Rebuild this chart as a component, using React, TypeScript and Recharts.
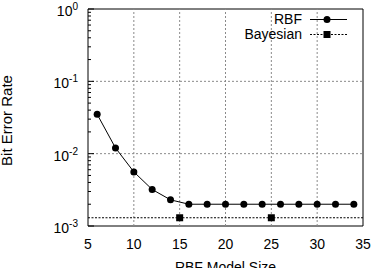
import {
  ComposedChart,
  Line,
  Scatter,
  XAxis,
  YAxis,
  ReferenceLine,
  ReferenceArea,
  Legend,
} from "recharts";

// ----- Data -----
const rbfSizes = [6, 8, 10, 12, 14, 16, 18, 20, 22, 24, 26, 28, 30, 32, 34];
const rbfBer = [
  0.035, 0.012, 0.0056, 0.0032, 0.0023, 0.002, 0.002, 0.002, 0.002, 0.002,
  0.002, 0.002, 0.002, 0.002, 0.002,
];
const bayesSizes = [15, 25];
const bayesBer = 0.0013;

const xTicks = [5, 10, 15, 20, 25, 30, 35];
const xGrid = [10, 15, 20, 25, 30];
const yGrid = [0.01, 0.1];
// decades plus the 2..9 minor steps of the log axis
const yMajor = [0.001, 0.01, 0.1, 1];
const yTicks = yMajor.flatMap((d) =>
  d < 1 ? [d, 2 * d, 3 * d, 4 * d, 5 * d, 6 * d, 7 * d, 8 * d, 9 * d] : [d]
);

const rbfData = rbfSizes.map((size, i) => ({ size, ber: rbfBer[i] }));
const bayesData = bayesSizes.map((size) => ({ size, ber: bayesBer }));

const FONT = "'Liberation Sans', Arial, Helvetica, sans-serif";

// ----- Ticks -----
function XTick({ x, y, payload }: any) {
  return (
    <text x={x} y={y + 21} textAnchor="middle" fontSize={14} fill="#000" fontFamily={FONT}>
      {payload.value}
    </text>
  );
}

function isDecade(v: number) {
  const e = Math.log10(v);
  return Math.abs(e - Math.round(e)) < 1e-6;
}

function YTickLeft({ x, y, payload }: any) {
  const v = payload.value;
  if (!isDecade(v)) {
    return <line x1={x} x2={x + 3} y1={y} y2={y} stroke="#000" strokeWidth={1} />;
  }
  const exp = Math.round(Math.log10(v));
  return (
    <g>
      <line x1={x} x2={x + 6} y1={y} y2={y} stroke="#000" strokeWidth={1} />
      <text x={x - 10} y={y + 7} textAnchor="end" fontSize={14} fill="#000" fontFamily={FONT}>
        10
        <tspan dy={-6} fontSize={10}>
          {exp}
        </tspan>
      </text>
    </g>
  );
}

function YTickRight({ x, y, payload }: any) {
  const len = isDecade(payload.value) ? 6 : 3;
  return <line x1={x - len} x2={x} y1={y} y2={y} stroke="#000" strokeWidth={1} />;
}

// ----- Legend -----
function KeyBox() {
  const row = {
    display: "flex",
    alignItems: "center",
    justifyContent: "flex-end",
    height: 15,
  } as const;
  return (
    <div style={{ fontFamily: FONT, fontSize: 14, color: "#000", lineHeight: "15px" }}>
      <div style={row}>
        <span>RBF</span>
        <svg width={45} height={15} style={{ display: "block" }}>
          <line x1={8} x2={45} y1={7.5} y2={7.5} stroke="#000" strokeWidth={1} />
          <circle cx={25} cy={7.5} r={3.5} fill="#000" />
        </svg>
      </div>
      <div style={row}>
        <span>Bayesian</span>
        <svg width={45} height={15} style={{ display: "block" }}>
          <line
            x1={8}
            x2={45}
            y1={7.5}
            y2={7.5}
            stroke="#000"
            strokeWidth={1}
            strokeDasharray="2 1.5"
          />
          <rect x={21.5} y={4} width={7} height={7} fill="#000" />
        </svg>
      </div>
    </div>
  );
}

// ----- Chart -----
export default function App() {
  return (
    <div style={{ position: "absolute", left: 0, top: 0, fontFamily: FONT }}>
      <ComposedChart width={374} height={268} margin={{ top: 9, right: 11, bottom: 0, left: 0 }}>
        <XAxis
          dataKey="size"
          type="number"
          domain={[5, 35]}
          ticks={xTicks}
          height={42}
          axisLine={false}
          tickLine={false}
          tickSize={0}
          tick={<XTick />}
          interval={0}
          label={{
            content: ({ viewBox }: any) => (
              <text
                x={viewBox.x + viewBox.width / 2}
                y={viewBox.y + 46}
                textAnchor="middle"
                fontSize={14}
                fill="#000"
                fontFamily={FONT}
              >
                RBF Model Size
              </text>
            ),
          }}
        />
        <YAxis
          yAxisId="left"
          dataKey="ber"
          scale="log"
          domain={[0.001, 1]}
          ticks={yTicks}
          allowDataOverflow
          width={88}
          axisLine={false}
          tickLine={false}
          tickSize={0}
          tickMargin={0}
          interval={0}
          tick={<YTickLeft />}
          label={{
            content: ({ viewBox }: any) => {
              const cx = 12;
              const cy = viewBox.y + viewBox.height / 2 + 3;
              return (
                <text
                  x={cx}
                  y={cy}
                  transform={`rotate(-90 ${cx} ${cy})`}
                  textAnchor="middle"
                  fontSize={15}
                  fill="#000"
                  fontFamily={FONT}
                >
                  Bit Error Rate
                </text>
              );
            },
          }}
        />
        <YAxis
          yAxisId="right"
          orientation="right"
          scale="log"
          domain={[0.001, 1]}
          ticks={yTicks}
          allowDataOverflow
          width={0}
          axisLine={false}
          tickLine={false}
          tickSize={0}
          tickMargin={0}
          interval={0}
          tick={<YTickRight />}
        />

        {/* dotted grid */}
        {xGrid.map((v) => (
          <ReferenceLine
            key={`gx${v}`}
            yAxisId="left"
            x={v}
            stroke="#8a8a8a"
            strokeDasharray="2 2"
          />
        ))}
        {yGrid.map((v) => (
          <ReferenceLine
            key={`gy${v}`}
            yAxisId="left"
            y={v}
            stroke="#8a8a8a"
            strokeDasharray="2 2"
          />
        ))}

        <ReferenceLine
          yAxisId="left"
          y={bayesBer}
          stroke="#000"
          strokeDasharray="2 1.5"
        />

        <ReferenceArea
          yAxisId="left"
          x1={5}
          x2={35}
          y1={0.001}
          y2={1}
          fill="none"
          fillOpacity={0}
          stroke="#000"
          strokeWidth={1}
          ifOverflow="visible"
        />

        <Line
          yAxisId="left"
          data={rbfData}
          dataKey="ber"
          type="linear"
          stroke="#000"
          strokeWidth={1}
          dot={{ r: 3.5, fill: "#000", stroke: "#000", strokeWidth: 0 }}
          isAnimationActive={false}
        />
        <Scatter
          yAxisId="left"
          data={bayesData}
          dataKey="ber"
          fill="#000"
          shape={(p: any) => (
            <rect x={p.cx - 3.5} y={p.cy - 3.5} width={7} height={7} fill="#000" />
          )}
          isAnimationActive={false}
        />

        <Legend
          layout="horizontal"
          verticalAlign="middle"
          align="center"
          content={<KeyBox />}
          wrapperStyle={{ left: 227, top: 12, width: 120, right: "auto", bottom: "auto" }}
        />
      </ComposedChart>
    </div>
  );
}
